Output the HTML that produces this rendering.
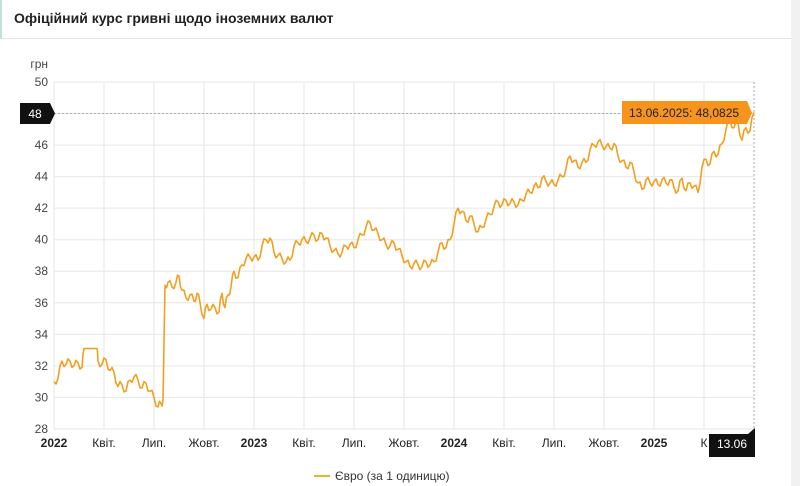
<!DOCTYPE html>
<html><head><meta charset="utf-8"><style>
body{margin:0;width:800px;height:486px;background:#fff;overflow:hidden;font-family:"Liberation Sans",sans-serif;position:relative}
.hdr{position:absolute;left:0;top:0;width:791px;height:39px;border-bottom:1px solid #e4e4e4;border-left:2px solid #bfe3d9;box-sizing:border-box}
.hdr span{position:absolute;left:12px;top:10px;font-size:14px;color:#222;font-weight:bold}
.strip{position:absolute;left:791px;top:0;width:9px;height:486px;background:#f1f1f1}
</style></head><body>
<div class="hdr"><span>Офіційний курс гривні щодо іноземних валют</span></div>
<div class="strip"></div>
<svg id="c" width="791" height="486" style="position:absolute;left:0;top:0" font-family="Liberation Sans, sans-serif"></svg>
<script>
const s=document.getElementById('c');let h='';
const Y=v=>82+(50-v)*15.77;
for(let v=28;v<=50;v+=2){const y=Y(v);h+=`<line x1="54" x2="754" y1="${y}" y2="${y}" stroke="#e6e6e6"/>`;
 if(v!=48)h+=`<text x="48" y="${y+4}" font-size="12" fill="#444" text-anchor="end">${v}</text>`;}
h+=`<text x="48" y="68" font-size="12" fill="#444" text-anchor="end">грн</text>`;
const L=['2022','Квіт.','Лип.','Жовт.','2023','Квіт.','Лип.','Жовт.','2024','Квіт.','Лип.','Жовт.','2025','К'];
for(let i=0;i<14;i++){const x=54+i*50;h+=`<line x1="${x}" x2="${x}" y1="82" y2="429" stroke="#e6e6e6"/>`;
 const b=/^20/.test(L[i]);h+=`<text x="${x}" y="447" font-size="12" fill="#222" text-anchor="middle" ${b?'font-weight="bold"':''}>${L[i]}</text>`;}
h+=`<line x1="54" x2="754" y1="113.5" y2="113.5" stroke="#aaa" stroke-dasharray="2,2"/>`;
h+=`<line x1="754" x2="754" y1="82" y2="429" stroke="#aaa" stroke-dasharray="2,2"/>`;
const d=[[54,31],[58,31.2],[62,32.3],[66,32.1],[70,32.3],[74,32],[78,32.2],[82,31.9],[84,33.1],[97,33.1],[98,32.3],[102,32.1],[106,32.4],[110,31.7],[114,31.6],[118,30.7],[122,30.8],[126,30.4],[130,31.1],[134,31.3],[138,31.1],[142,30.6],[146,30.9],[150,30.4],[154,30],[158,29.4],[161,29.6],[163,29.8],[165,37.1],[168,37.3],[172,37],[176,37.3],[179,37.7],[182,36.8],[186,36.3],[190,36.5],[194,36.1],[197,36.6],[200,36],[204,35],[207,35.9],[211,35.6],[215,35.7],[219,35.4],[222,36.6],[225,35.7],[228,36.5],[231,37],[234,38],[238,37.6],[242,38.4],[246,38.8],[250,38.9],[254,38.9],[258,38.7],[262,39.6],[266,40],[270,40.1],[274,39.2],[278,39],[282,38.8],[286,38.6],[290,38.7],[294,39.6],[298,39.8],[302,40],[306,39.9],[310,40.1],[314,40.3],[318,40],[322,40.4],[326,40.1],[330,39.6],[334,39.3],[338,39.1],[342,39.2],[346,39.6],[350,39.7],[354,39.5],[358,40],[362,40.3],[366,40.8],[370,41.1],[374,40.6],[378,40.4],[382,40],[386,39.7],[390,39.6],[394,39.8],[398,39.4],[402,39],[406,38.6],[410,38.3],[414,38.5],[418,38.4],[422,38.3],[426,38.6],[430,38.4],[434,38.6],[438,39.2],[442,39.8],[446,39.5],[450,40],[454,41],[458,42],[462,41.8],[466,41.2],[470,41.5],[474,41],[478,40.5],[482,40.8],[486,41.3],[490,41.6],[494,42.1],[498,42.4],[502,42.2],[506,42.5],[510,42.3],[514,42.4],[518,42.2],[522,42.5],[526,42.9],[530,43],[534,43.4],[538,43.3],[542,43.9],[546,43.7],[550,43.6],[554,43.5],[558,43.8],[562,44],[566,44.5],[570,45.3],[574,45],[578,44.6],[582,44.9],[586,44.9],[590,45.7],[594,46],[598,46.2],[602,46],[606,45.9],[610,45.8],[614,46.1],[618,45.3],[622,45],[626,44.6],[630,44.9],[634,44.3],[638,43.6],[642,43.2],[646,43.8],[650,43.6],[654,43.7],[658,43.5],[662,43.8],[666,43.6],[670,43.8],[674,43.3],[678,43.1],[682,43.9],[686,43.1],[690,43.6],[694,43.4],[698,43],[702,44.6],[706,45.1],[710,44.8],[714,45.6],[718,45.4],[722,46.1],[726,47],[730,47.6],[734,47.1],[738,47.4],[742,46.3],[746,47.1],[750,46.9],[754,48.08]];
let p=[];for(let i=0;i<d.length;i++){const [x,v]=d[i];p.push(x+','+Y(v).toFixed(1));
 if(i<d.length-1&&!(x>=84&&x<97)&&x!=163){const [x2,v2]=d[i+1];const mx=(x+x2)/2,mv=(v+v2)/2+((i%2)?0.25:-0.25);p.push(mx+','+Y(mv).toFixed(1));}}
h+=`<polyline points="${p.join(' ')}" fill="none" stroke="#f0a020" stroke-width="1.6" stroke-linejoin="round"/>`;
h+=`<path d="M20 103H50L55 113.5L50 124H20Z" fill="#111"/><text x="35" y="118" font-size="12" fill="#fff" text-anchor="middle">48</text>`;
h+=`<path d="M622 101H747L752 113L747 124H622Z" fill="#f7941d"/><text x="684" y="117" font-size="12" fill="#222" text-anchor="middle">13.06.2025: 48,0825</text>`;
h+=`<path d="M709 434H748L755 428V457H709Z" fill="#111"/><text x="732" y="448" font-size="12" fill="#fff" text-anchor="middle">13.06</text>`;
h+=`<line x1="314" x2="330" y1="476" y2="476" stroke="#f0b030" stroke-width="2"/><text x="335" y="480" font-size="12" fill="#333">Євро (за 1 одиницю)</text>`;
s.innerHTML=h;
</script>
</body></html>
